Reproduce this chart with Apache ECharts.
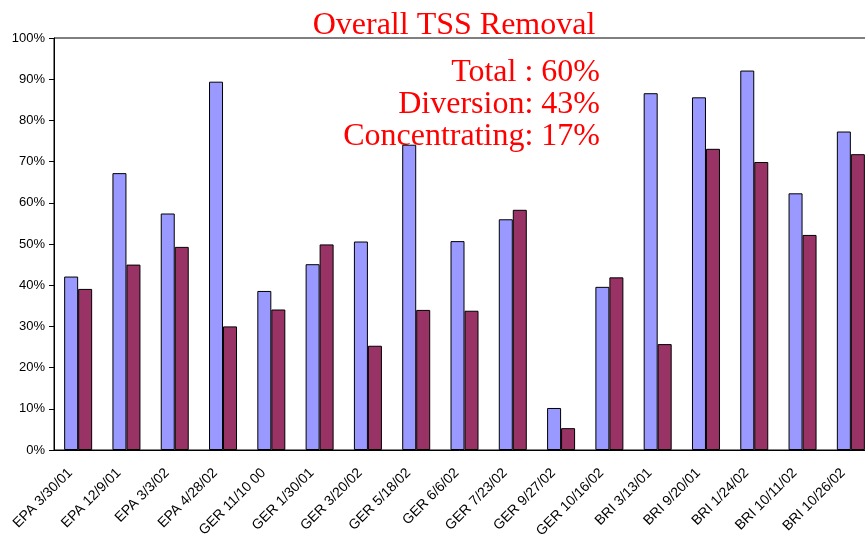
<!DOCTYPE html>
<html>
<head>
<meta charset="utf-8">
<script src="https://cdn.jsdelivr.net/npm/echarts@6/dist/echarts.min.js"></script>
<style>
  html, body { margin: 0; padding: 0; background: #fff; }
  #main { width: 865px; height: 536px; }
</style>
</head>
<body>
<div id="main"></div>
<script>
// sample events (x axis)
const categories = [
  "EPA 3/30/01", "EPA 12/9/01", "EPA 3/3/02", "EPA 4/28/02",
  "GER 11/10 00", "GER 1/30/01", "GER 3/20/02", "GER 5/18/02",
  "GER 6/6/02", "GER 7/23/02", "GER 9/27/02", "GER 10/16/02",
  "BRI 3/13/01", "BRI 9/20/01", "BRI 1/24/02", "BRI 10/11/02", "BRI 10/26/02"
];
// removal fractions
const seriesA = [0.421, 0.672, 0.574, 0.894, 0.386, 0.451, 0.506, 0.741, 0.507, 0.560, 0.102, 0.396, 0.866, 0.856, 0.921, 0.623, 0.773];
const seriesB = [0.391, 0.450, 0.493, 0.300, 0.341, 0.499, 0.253, 0.340, 0.338, 0.583, 0.053, 0.419, 0.257, 0.731, 0.699, 0.522, 0.718];
const yTicks = [0, 0.1, 0.2, 0.3, 0.4, 0.5, 0.6, 0.7, 0.8, 0.9, 1];
const notes = ["Total : 60%", "Diversion: 43%", "Concentrating: 17%"];

const chart = echarts.init(document.getElementById("main"));

// red note lines, right aligned
const noteTexts = notes.map((t, i) => ({
  type: "text",
  x: 600,
  y: 57 + i * 32,
  style: {
    text: t,
    textAlign: "right",
    align: "right",
    textVerticalAlign: "top",
    fill: "#ff0000",
    font: "32px 'Liberation Serif'"
  }
}));

const option = {
  animation: false,
  grid: {
    left: 54,
    top: 38,
    width: 821,
    height: 412,
    outerBoundsMode: "none",
    containLabel: false,
    show: true,
    borderColor: "#000",
    borderWidth: 1
  },
  graphic: [
    {
      type: "text",
      x: 454,
      y: 10,
      style: {
        text: "Overall TSS Removal",
        textAlign: "center",
        align: "center",
        textVerticalAlign: "top",
        fill: "#ff0000",
        font: "32px 'Liberation Serif'"
      }
    }
  ].concat(noteTexts),
  xAxis: {
    type: "category",
    data: categories,
    axisLine: { lineStyle: { color: "#000", width: 1 } },
    axisTick: { length: 5, lineStyle: { color: "#000" } },
    axisLabel: {
      rotate: 45,
      interval: 0,
      color: "#000",
      fontFamily: "Liberation Sans",
      fontSize: 14,
      margin: 13,
      padding: [0, 11, 0, 0]
    }
  },
  yAxis: {
    type: "value",
    min: 0,
    max: 1,
    interval: 0.1,
    axisLine: { show: true, lineStyle: { color: "#000", width: 1 } },
    axisTick: { show: true, length: 5, lineStyle: { color: "#000" } },
    splitLine: { show: false },
    axisLabel: {
      color: "#000",
      fontFamily: "Liberation Sans",
      fontSize: 13,
      margin: 9,
      formatter: v => Math.round(v * 100) + "%"
    }
  },
  series: [
    {
      name: "A",
      type: "bar",
      data: seriesA,
      barWidth: 14,
      barGap: "0%",
      itemStyle: { color: "#9999ff", borderColor: "#000", borderWidth: 1 }
    },
    {
      name: "B",
      type: "bar",
      data: seriesB,
      barWidth: 14,
      barGap: "0%",
      itemStyle: { color: "#993366", borderColor: "#000", borderWidth: 1 }
    }
  ]
};

chart.setOption(option);
</script>
</body>
</html>
